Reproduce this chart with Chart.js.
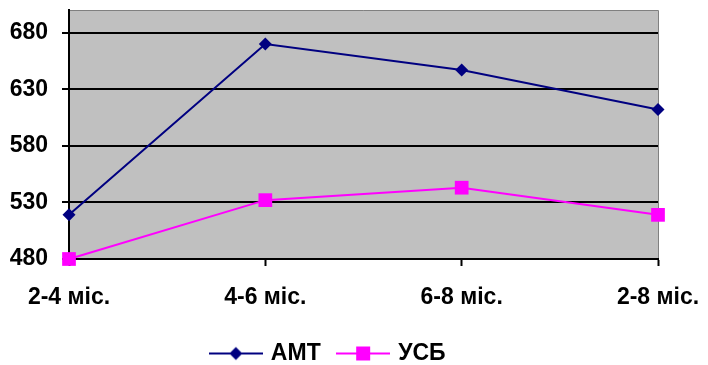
<!DOCTYPE html>
<html>
<head>
<meta charset="utf-8">
<script src="https://cdn.jsdelivr.net/npm/chart.js@4"></script>
<style>
  html, body { margin: 0; padding: 0; background: #ffffff; }
  #wrap { width: 708px; height: 365px; position: relative; }
</style>
</head>
<body>
<div id="wrap"><canvas id="c" width="708" height="365"></canvas></div>
<script>
const categories = ['2-4 міс.', '4-6 міс.', '6-8 міс.', '2-8 міс.'];
const seriesNames = ['АМТ', 'УСБ'];
const amtValues = [519, 670, 647, 612];
const usbValues = [480, 532, 543, 519];
const yTickValues = [480, 530, 580, 630, 680];
const yMin = 480;
const yMax = 700;

const FONT = '"Liberation Sans", Arial, sans-serif';

function legendIcon(color, style) {
  const cv = document.createElement('canvas');
  cv.width = 54; cv.height = 16;
  const g = cv.getContext('2d');
  g.strokeStyle = color; g.lineWidth = 2;
  g.beginPath(); g.moveTo(0, 8); g.lineTo(54, 8); g.stroke();
  g.fillStyle = color;
  if (style === 'diamond') {
    g.beginPath(); g.moveTo(27, 1.5); g.lineTo(33.5, 8); g.lineTo(27, 14.5); g.lineTo(20.5, 8); g.closePath(); g.fill();
  } else {
    g.fillRect(20, 1, 14, 14);
  }
  return cv;
}
const icons = [legendIcon('#000080', 'diamond'), legendIcon('#FF00FF', 'square')];

const plotBg = {
  id: 'plotBg',
  beforeDraw(chart) {
    const {ctx, chartArea: a} = chart;
    ctx.save();
    ctx.fillStyle = '#C0C0C0';
    ctx.fillRect(a.left, a.top, a.right - a.left, a.bottom - a.top);
    ctx.strokeStyle = '#808080';
    ctx.lineWidth = 1;
    ctx.beginPath();
    ctx.moveTo(a.left, a.top + 0.5);
    ctx.lineTo(a.right + 0.5, a.top + 0.5);
    ctx.lineTo(a.right + 0.5, a.bottom);
    ctx.stroke();
    ctx.restore();
  }
};

new Chart(document.getElementById('c'), {
  type: 'line',
  data: {
    labels: categories,
    datasets: [
      {
        label: seriesNames[0], data: amtValues,
        borderColor: '#000080', backgroundColor: '#000080',
        borderWidth: 2, pointStyle: 'rectRot', pointRadius: 6.5, pointHoverRadius: 6.5,
        pointBorderWidth: 0, tension: 0, clip: false
      },
      {
        label: seriesNames[1], data: usbValues,
        borderColor: '#FF00FF', backgroundColor: '#FF00FF',
        borderWidth: 2, pointStyle: 'rect', pointRadius: 9.7, pointHoverRadius: 9.7,
        pointBorderWidth: 0, tension: 0, clip: false
      }
    ]
  },
  options: {
    responsive: false,
    animation: false,
    devicePixelRatio: 1,
    layout: { padding: { top: 10, left: 0, right: 50, bottom: -10 } },
    plugins: {
      tooltip: { enabled: false },
      legend: {
        position: 'bottom',
        labels: {
          usePointStyle: true,
          pointStyleWidth: 47,
          padding: 19,
          color: '#000000',
          font: { family: FONT, size: 23, weight: 'bold' },
          generateLabels(chart) {
            const items = Chart.defaults.plugins.legend.labels.generateLabels(chart);
            items.forEach((it, i) => { it.pointStyle = icons[i]; });
            return items;
          }
        }
      }
    },
    scales: {
      x: {
        offset: false,
        afterFit(scale) { scale.height = 64; scale.paddingLeft = 0; scale.paddingRight = 0; },
        grid: { drawOnChartArea: false, tickLength: 7, tickColor: '#000000', tickWidth: 2 },
        border: { color: '#000000', width: 2 },
        ticks: { color: '#000000', padding: 17.5, maxRotation: 0, autoSkip: false,
                 font: { family: FONT, size: 23, weight: 'bold' } }
      },
      y: {
        min: yMin, max: yMax,
        afterBuildTicks(scale) {
          scale.ticks = yTickValues.concat([yMax]).map(v => ({ value: v }));
        },
        afterFit(scale) { scale.width = 69; scale.paddingTop = 0; scale.paddingBottom = 0; },
        grid: {
          color: (c) => (c.tick && c.tick.value > yMin && c.tick.value < yMax) ? '#000000' : 'rgba(0,0,0,0)',
          lineWidth: 2,
          tickLength: 7,
          tickWidth: 2,
          tickColor: (c) => (c.tick && c.tick.value < yMax) ? '#000000' : 'rgba(0,0,0,0)'
        },
        border: { color: '#000000', width: 2 },
        ticks: {
          padding: 14, color: '#000000',
          font: { family: FONT, size: 23, weight: 'bold' },
          callback: (v) => (yTickValues.includes(v) ? String(v) : '')
        }
      }
    }
  },
  plugins: [plotBg]
});
</script>
</body>
</html>
